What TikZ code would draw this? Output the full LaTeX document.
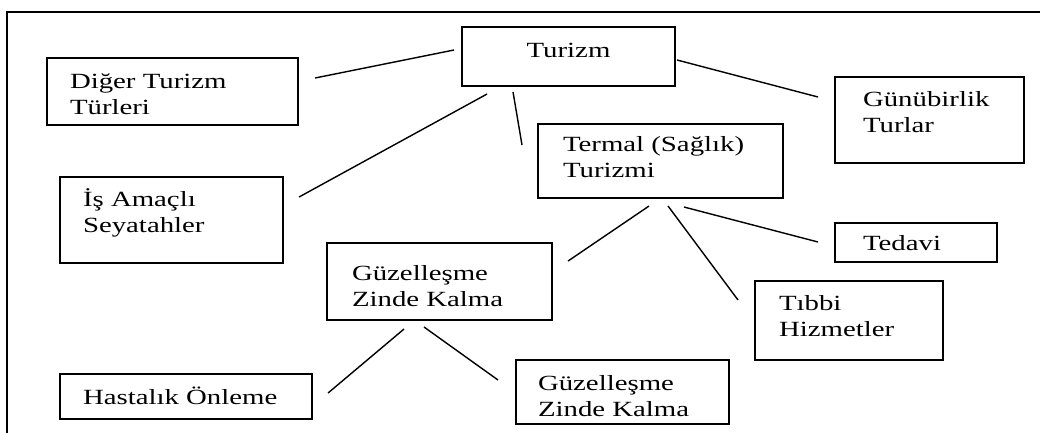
\documentclass[tikz,border=0pt]{standalone}
\usepackage{fontspec}
\setmainfont{Liberation Serif}[FakeStretch=1.33]
\usepackage{xcolor}
\usepackage{tikz}

\begin{document}
\begin{tikzpicture}[x=0.025cm, y=-0.025cm]
	\tikzstyle{box} = [draw, line width=1.6pt, anchor=north west, align=left, inner sep=0pt, outer sep=0pt, text height=0.375cm, font=\fontsize{15.4}{18.5}\selectfont]
	\tikzstyle{frame} = [line width=2pt]
	\tikzset{link/.style = {-, line width=1pt}}
	
	\useasboundingbox (0,0) rectangle (1040,433);
	\draw[frame] (7,433) -- (7,12) -- (1040,12);
	
	\node[box, minimum width=5.325cm, minimum height=1.475cm, text width=4.3cm, align=center, text depth=0.35cm](turizm) at (462,27) {Turizm};
	\node[box, minimum width=6.275cm, minimum height=1.675cm, text width=5.125cm, text depth=0.55cm](diger) at (47,58) {Diğer Turizm\\Türleri};
	\node[box, minimum width=5.575cm, minimum height=2.15cm, text width=4.425cm, text depth=1.04cm](is) at (60,177) {İş Amaçlı\\Seyatahler};
	\node[box, minimum width=6.125cm, minimum height=1.85cm, text width=4.875cm, text depth=0.84cm](termal) at (538,124) {Termal (Sağlık)\\Turizmi};
	\node[box, minimum width=4.725cm, minimum height=2.15cm, text width=3.325cm, text depth=1.075cm](gunu) at (835,77) {Günübirlik\\Turlar};
	\node[box, minimum width=5.625cm, minimum height=1.925cm, text width=4.375cm, text depth=0.45cm](guzel) at (327,243) {Güzelleşme\\Zinde Kalma};
	\node[box, minimum width=4.05cm, minimum height=0.975cm, text width=2.65cm, text depth=0cm](tedavi) at (835,223) {Tedavi};
	\node[box, minimum width=4.7cm, minimum height=1.975cm, text width=3.5cm, text depth=0.865cm](tibbi) at (755,281) {Tıbbi\\Hizmetler};
	\node[box, minimum width=6.3cm, minimum height=1.125cm, text width=5.15cm, text depth=0cm](hastalik) at (60,374) {Hastalık Önleme};
	\node[box, minimum width=5.325cm, minimum height=1.6cm, text width=4.225cm, text depth=0.475cm](guzel2) at (516,360) {Güzelleşme\\Zinde Kalma};
	
	\draw[link]([shift={(17,-13.5)}]diger.east) -- ([shift={(-8,-6.5)}]turizm.west);
	\draw[link]([shift={(-81.5,8)}]turizm.south) -- ([shift={(16,-23)}]is.east);
	\draw[link]([shift={(-55.5,6)}]turizm.south) -- ([shift={(-16,-16)}]termal.west);
	\draw[link]([shift={(2,3.5)}]turizm.east) -- ([shift={(-17,-23)}]gunu.west);
	
	\draw[link]([shift={(-11.5,8)}]termal.south) -- ([shift={(16,-20.5)}]guzel.east);
	\draw[link]([shift={(7.5,8)}]termal.south) -- ([shift={(-17,19)}]tibbi.north west);
	\draw[link]([shift={(23.5,9)}]termal.south) -- ([shift={(-17,-0.5)}]tedavi.west);
	
	\draw[link]([shift={(-35.5,9)}]guzel.south) -- ([shift={(16,-3.5)}]hastalik.east);
	\draw[link]([shift={(-15.5,7)}]guzel.south) -- ([shift={(-18,-12)}]guzel2.west);
	
\end{tikzpicture}
\end{document}
